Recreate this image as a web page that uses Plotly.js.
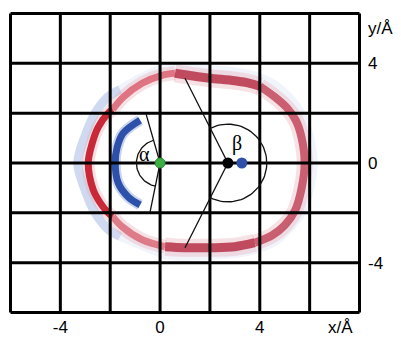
<!DOCTYPE html>
<html>
<head>
<meta charset="utf-8">
<script src="https://cdn.plot.ly/plotly-3.0.1.min.js"></script>
<style>html,body{margin:0;padding:0;background:#fff;}#chart{width:401px;height:337px;}</style>
</head>
<body>
<div id="chart"></div>
<script>
// ---- data (Å) ----
var gridXVals = [-6,-4,-2,0,2,4,6,8];
var gridYVals = [-6,-4,-2,0,2,4,6];
var xTickVals = [-4,0,4];
var xTickText = ['-4','0','4'];
var yTickVals = [-4,0,4];
var yTickText = ['-4','0','4'];

// red ring segments by intensity
var redLeftX = [-1.9,-2.08,-2.48,-2.72,-2.88,-2.68,-2.4,-2.08,-1.9];
var redLeftY = [2.15,2.0,1.44,0.8,0,-1.08,-1.6,-2.0,-2.15];
var redTopLeftX = [-1.9,-1.48,-0.72,0.08,0.6];
var redTopLeftY = [2.15,2.64,3.2,3.52,3.6];
var redTopX = [0.6,1.4,2.0,3.0,3.6,4.0];
var redTopY = [3.6,3.48,3.4,3.3,3.2,3.08];
var redRightX = [4.0,4.6,5.1,5.45,5.68,5.8,5.68,5.42,5.0,4.5,3.8];
var redRightY = [3.08,2.65,2.2,1.7,1.0,0,-1.0,-1.9,-2.5,-2.9,-3.2];
var redBottomX = [3.8,3.0,2.0,1.0,0.2];
var redBottomY = [-3.2,-3.36,-3.4,-3.4,-3.36];
var redBottomLeftX = [0.2,-0.72,-1.52,-1.9];
var redBottomLeftY = [-3.36,-3.08,-2.56,-2.15];

// faint outer blue band (left part strong, rest faint)
var outerBlueLeftX = [-1.6,-2.1,-2.6,-3.0,-3.3,-3.0,-2.6,-2.1,-1.6];
var outerBlueLeftY = [2.95,2.64,2.0,1.1,0,-1.1,-2.0,-2.64,-2.95];
var outerBlueRestX = [-1.6,-0.6,0.4,2.0,3.5,4.4,5.1,5.7,6.0,6.15,6.0,5.7,5.2,4.6,3.5,2.0,0.3,-0.6,-1.6];
var outerBlueRestY = [2.95,3.5,3.85,3.75,3.58,3.25,2.7,1.9,1.0,0,-1.0,-1.95,-2.6,-3.15,-3.55,-3.7,-3.7,-3.35,-2.95];

// inner blue arc
var blueArcX = [-0.8,-1.48,-1.72,-1.8,-1.68,-1.28,-0.8];
var blueArcY = [1.72,1.2,0.64,0,-0.8,-1.36,-1.68];

// construction lines
var betaLinesX = [1.0,2.72,1.0];
var betaLinesY = [3.4,0,-3.4];
var alphaLinesX = [-0.56,0,-0.4];
var alphaLinesY = [1.96,0,-1.96];

// arcs: center, radius, start/end angle (deg)
var betaArc = {cx:2.72, cy:0, r:1.56, a0:116.8, a1:-116.8};
var alphaArc = {cx:0, cy:0, r:0.95, a0:106, a1:259};

// points
var greenPt = {x:[0], y:[0]};
var blackPt = {x:[2.72], y:[0]};
var bluePt = {x:[3.28], y:[0]};

// ---- build ----
function arcPts(a){
  var xs=[], ys=[], n=60;
  for(var i=0;i<=n;i++){
    var t=(a.a0+(a.a1-a.a0)*i/n)*Math.PI/180;
    xs.push(a.cx+a.r*Math.cos(t)); ys.push(a.cy+a.r*Math.sin(t));
  }
  return {x:xs,y:ys};
}
function lineTrace(x,y,color,width,shape){
  return {type:'scatter',mode:'lines',x:x,y:y,hoverinfo:'skip',
    line:{color:color,width:width,shape:shape||'spline',smoothing:1}};
}
var gx=[],gy=[];
gridXVals.forEach(function(v){gx.push(v,v,null);gy.push(gridYVals[0],gridYVals[gridYVals.length-1],null);});
gridYVals.forEach(function(v){gy.push(v,v,null);gx.push(gridXVals[0],gridXVals[gridXVals.length-1],null);});

var ba=arcPts(betaArc), aa=arcPts(alphaArc);

var haloRed='rgba(230,170,180,0.35)';
var traces=[
  lineTrace(outerBlueLeftX,outerBlueLeftY,'rgba(160,182,228,0.5)',9),
  lineTrace(outerBlueRestX,outerBlueRestY,'rgba(185,198,235,0.2)',9),
  lineTrace(redLeftX,redLeftY,haloRed,13),
  lineTrace(redTopLeftX,redTopLeftY,haloRed,14),
  lineTrace(redTopX,redTopY,haloRed,18),
  lineTrace(redRightX,redRightY,haloRed,16),
  lineTrace(redBottomX,redBottomY,haloRed,18),
  lineTrace(redBottomLeftX,redBottomLeftY,haloRed,14),
  lineTrace(redLeftX,redLeftY,'rgb(200,40,56)',7),
  lineTrace(redTopLeftX,redTopLeftY,'rgba(215,80,98,0.75)',7),
  lineTrace(redTopX,redTopY,'rgba(182,48,72,0.85)',9),
  lineTrace(redRightX,redRightY,'rgba(188,58,80,0.78)',8),
  lineTrace(redBottomX,redBottomY,'rgba(182,48,72,0.85)',9),
  lineTrace(redBottomLeftX,redBottomLeftY,'rgba(212,85,102,0.72)',7),
  lineTrace(blueArcX,blueArcY,'rgba(120,150,210,0.4)',11),
  lineTrace(blueArcX,blueArcY,'rgb(45,80,170)',7),
  {type:'scatter',mode:'lines',x:gx,y:gy,hoverinfo:'skip',line:{color:'#000',width:3}},
  lineTrace(betaLinesX,betaLinesY,'#111',1.3,'linear'),
  lineTrace(alphaLinesX,alphaLinesY,'#111',1.3,'linear'),
  lineTrace(ba.x,ba.y,'#111',1.3,'linear'),
  lineTrace(aa.x,aa.y,'#111',1.3,'linear'),
  {type:'scatter',mode:'markers',x:greenPt.x,y:greenPt.y,marker:{color:'#3cb043',size:10,line:{color:'#2a8a30',width:1}}},
  {type:'scatter',mode:'markers',x:blackPt.x,y:blackPt.y,marker:{color:'#000',size:11}},
  {type:'scatter',mode:'markers',x:bluePt.x,y:bluePt.y,marker:{color:'#2f4fa8',size:11}}
];

var tf={family:'Liberation Sans, Arial, sans-serif',size:17,color:'#000'};
var sf={family:'Liberation Serif, Times New Roman, serif',size:20,color:'#000'};
var layout={
  width:401,height:337,
  margin:{l:8.5,r:39.5,t:11.5,b:22.5,pad:0},
  paper_bgcolor:'#fff',plot_bgcolor:'#fff',
  showlegend:false,
  xaxis:{range:[-6.06,8.06],tickvals:xTickVals,ticktext:xTickText,showgrid:false,zeroline:false,
    showline:false,ticks:'',tickfont:tf,ticklabelstandoff:1,fixedrange:true},
  yaxis:{range:[-6.06,6.06],side:'right',tickvals:yTickVals,ticktext:yTickText,showgrid:false,zeroline:false,
    showline:false,ticks:'',tickfont:tf,ticklabelstandoff:6,fixedrange:true},
  annotations:[
    {x:0.942,y:-0.045,xref:'paper',yref:'paper',xanchor:'center',yanchor:'middle',borderpad:0,text:'x/Å',showarrow:false,font:tf},
    {x:1.055,y:0.946,xref:'paper',yref:'paper',xanchor:'center',yanchor:'middle',borderpad:0,text:'y/Å',showarrow:false,font:tf},
    {x:-0.62,y:0.36,xref:'x',yref:'y',text:'α',showarrow:false,font:sf},
    {x:3.1,y:0.8,xref:'x',yref:'y',text:'β',showarrow:false,font:sf}
  ]
};
Plotly.newPlot('chart',traces,layout,{displayModeBar:false,staticPlot:true});
</script>
</body>
</html>
